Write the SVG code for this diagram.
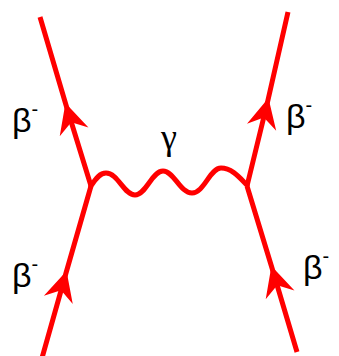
<svg xmlns="http://www.w3.org/2000/svg" width="339" height="356" viewBox="0 0 339 356">
<style>
.f{fill:none;stroke:#ff0000;stroke-width:5;marker-mid:url(#arr)}
.w{fill:none;stroke:#ff0000;stroke-width:5;stroke-linecap:round;stroke-linejoin:round}
.t{font-family:"Liberation Sans",Arial,sans-serif;font-size:34px;fill:#000}
.s{font-size:20px}
</style>
<defs>
<marker id="arr" markerUnits="userSpaceOnUse" markerWidth="40" markerHeight="40" viewBox="-30 -20 40 40" refX="0" refY="0" orient="auto" overflow="visible">
<path d="M2,0 L-28,-15 L-18,0 L-28,15 Z" fill="#ff0000"/>
</marker>
</defs>
<rect width="339" height="356" fill="#fff"/>
<g id="connectors">
<path id="e1" class="f" d="M42,358 L66,273 L91,186"/>
<path id="e2" class="f" d="M91,186 L66,105 L40,17"/>
<path id="e3" class="f" d="M297,352 L272,268 L247,186"/>
<path id="e4" class="f" d="M247,186 L268,100 L288,12"/>
<path id="photon" class="w" d="M91,186 C96,178 100,173 106,173 C118,173 124,195 135,195 C146,195 152,171 163,171 C174,171 180,193 192,193 C204,193 210,168 221,168 C232,168 240,178 247,185"/>
</g>
<g id="labels">
<text class="t" x="12" y="132">β<tspan class="s" dy="-16">-</tspan></text>
<text class="t" x="12" y="287">β<tspan class="s" dy="-16">-</tspan></text>
<text class="t" x="286" y="128">β<tspan class="s" dy="-16">-</tspan></text>
<text class="t" x="303" y="279">β<tspan class="s" dy="-16">-</tspan></text>
<text x="161" y="149" style="font-family:'Liberation Serif','Times New Roman',serif;font-size:36px;fill:#000">γ</text>
</g>
</svg>
